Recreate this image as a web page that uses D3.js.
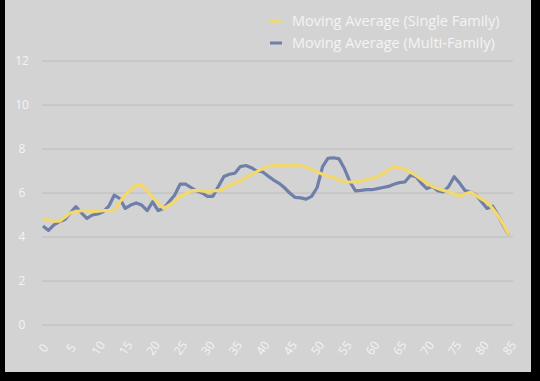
<!DOCTYPE html>
<html lang="en">
<head>
  <meta charset="UTF-8">
  <title>Moving Average</title>
  <script src="https://d3js.org/d3.v7.min.js"></script>
  <style>
    body{ margin:0; background:#000; }
    svg text{ font-family:"Open Sans", sans-serif; fill:#f4f4f4; }
    .grid line{ stroke:#bcbcbc; stroke-width:1; }
    .domain{ display:none; }
  </style>
</head>
<body>
  <svg id="chart"></svg>
  <script>
    // values, one per x step (0..85)
    const seriesNames = ["Moving Average (Single Family)", "Moving Average (Multi-Family)"];
    const singleFamily = [4.8,4.77,4.72,4.72,4.9,5.1,5.15,5.2,5.2,5.15,5.18,5.2,5.2,5.2,5.6,5.9,6.15,6.35,6.36,6.1,
      5.8,5.55,5.3,5.45,5.6,5.85,5.95,6.1,6.12,6.1,6.06,6.1,6.12,6.2,6.35,6.45,6.55,6.7,6.85,6.97,
      7.1,7.2,7.23,7.26,7.27,7.27,7.27,7.22,7.17,7.1,6.95,6.85,6.77,6.7,6.6,6.5,6.5,6.5,6.55,6.6,
      6.67,6.75,6.87,7.05,7.2,7.15,7.07,6.95,6.8,6.62,6.45,6.3,6.2,6.12,6.07,5.95,5.85,5.95,6.05,5.88,
      5.72,5.58,5.3,4.98,4.55,4.1];
    const multiFamily = [4.5,4.3,4.55,4.7,4.8,5.1,5.38,5.1,4.85,5.0,5.05,5.15,5.4,5.9,5.75,5.3,5.45,5.55,5.45,5.2,
      5.6,5.2,5.3,5.6,5.9,6.4,6.4,6.25,6.1,6.0,5.85,5.85,6.3,6.75,6.85,6.9,7.2,7.25,7.15,7.0,
      6.97,6.78,6.6,6.45,6.25,6.0,5.8,5.78,5.72,5.85,6.25,7.2,7.58,7.6,7.55,7.1,6.5,6.1,6.12,6.15,
      6.15,6.2,6.25,6.3,6.4,6.47,6.5,6.8,6.75,6.45,6.2,6.3,6.1,6.05,6.3,6.74,6.45,6.1,6.05,5.9,
      5.6,5.3,5.4,5.0,4.5,4.1];
    const xTicks = d3.range(0, 86, 5);
    const yTicks = [0, 2, 4, 6, 8, 10, 12];

    const W = 540, H = 381;
    const colors = ["#f3d86b", "#6f7fa9"];

    const svg = d3.select("#chart").attr("width", W).attr("height", H);
    // black frame, grey panel
    svg.append("rect").attr("width", W).attr("height", H).attr("fill", "#000");
    svg.append("rect").attr("x", 5).attr("y", 0).attr("width", 526).attr("height", 372).attr("fill", "#d3d3d3");

    const x = d3.scaleLinear().domain([0, 85]).range([43, 509]);
    const y = d3.scaleLinear().domain([0, 12]).range([325, 61]);

    // gridlines
    svg.append("g").attr("class", "grid")
      .selectAll("line").data(yTicks).enter().append("line")
      .attr("x1", 42).attr("x2", 513)
      .attr("y1", d => y(d)).attr("y2", d => y(d));

    // y labels
    svg.append("g").selectAll("text").data(yTicks).enter().append("text")
      .attr("x", 22).attr("y", d => y(d)).attr("dy", "0.35em")
      .attr("text-anchor", "middle").style("font-size", "12px")
      .text(d => d);

    // x axis labels, rotated
    const xAxis = svg.append("g").attr("transform", "translate(0,348)")
      .call(d3.axisBottom(x).tickValues(xTicks).tickSize(0).tickPadding(0));
    xAxis.selectAll("text")
      .attr("y", 0).attr("dy", "0.35em")
      .attr("text-anchor", "middle")
      .attr("transform", "rotate(-55)")
      .style("font-size", "12px").style("font-family", "Open Sans, sans-serif")
      .attr("fill", "#f4f4f4");

    const line = d3.line().x((d, i) => x(i)).y(d => y(d));
    // multi-family first so the single family line sits on top
    [multiFamily, singleFamily].forEach((s, k) => {
      svg.append("path").datum(s)
        .attr("fill", "none")
        .attr("stroke", k === 0 ? colors[1] : colors[0])
        .attr("stroke-width", 3.2)
        .attr("stroke-linejoin", "round")
        .attr("d", line);
    });

    // legend
    const legend = svg.append("g").selectAll("g").data(seriesNames).enter().append("g")
      .attr("transform", (d, i) => "translate(270," + (21 + i * 22) + ")");
    legend.append("line").attr("x1", 0).attr("x2", 12)
      .attr("stroke", (d, i) => colors[i]).attr("stroke-width", 3);
    legend.append("text").attr("x", 22).attr("dy", "0.35em")
      .style("font-size", "14.5px").text(d => d);
  </script>
</body>
</html>
